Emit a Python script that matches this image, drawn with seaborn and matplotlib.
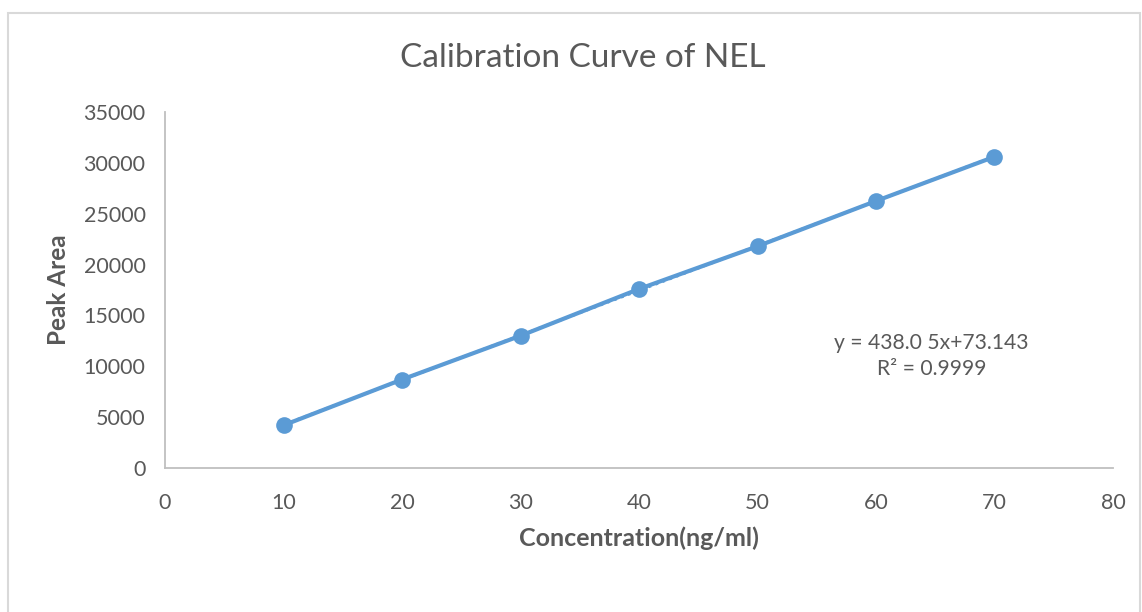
import matplotlib
matplotlib.use("Agg")
import matplotlib.pyplot as plt
import seaborn as sns
import pandas as pd
from matplotlib.patches import Rectangle

# calibration data
conc = [10, 20, 30, 40, 50, 60, 70]
peak_area = [4200, 8700, 13000, 17600, 21800, 26250, 30600]
x_ticks = [0, 10, 20, 30, 40, 50, 60, 70, 80]
y_ticks = [0, 5000, 10000, 15000, 20000, 25000, 30000, 35000]
equation = "y = 438.0 5x+73.143"
r_squared = "R² = 0.9999"

df = pd.DataFrame({"conc": conc, "area": peak_area})

sns.set_style("white")
plt.rcParams["font.family"] = ["Lato", "DejaVu Sans"]

blue = "#5B9BD5"
txt = "#595959"
grid_col = "#BFBFBF"

fig = plt.figure(figsize=(11.42, 6.12), dpi=100)
ax = fig.add_axes([0.1445, 0.2353, 0.9746 - 0.1445, 0.817 - 0.2353])

# outer chart border
fig.patches.append(Rectangle((8 / 1142, -0.01), 1132 / 1142, 1 - 13 / 612 + 0.01,
                             transform=fig.transFigure, fill=False,
                             edgecolor="#D9D9D9", linewidth=1.5))

sns.lineplot(data=df, x="conc", y="area", ax=ax, color=blue, linewidth=3,
             marker="o", markersize=12, markeredgewidth=0)
sns.regplot(data=df, x="conc", y="area", ax=ax, scatter=False, ci=None,
            color=blue, line_kws={"linestyle": ":", "linewidth": 2})

ax.set_xlim(0, 80)
ax.set_ylim(0, 35000)
ax.set_xticks(x_ticks)
ax.set_yticks(y_ticks)
ax.tick_params(axis="both", length=0, labelsize=15.5, colors=txt)
ax.tick_params(axis="x", pad=18)
ax.tick_params(axis="y", pad=14)

for side in ["top", "right"]:
    ax.spines[side].set_visible(False)
for side in ["left", "bottom"]:
    ax.spines[side].set_color(grid_col)
    ax.spines[side].set_linewidth(1.3)

ax.set_xlabel("Concentration(ng/ml)", fontsize=18, fontweight="bold", color=txt, labelpad=10)
ax.set_ylabel("Peak Area", fontsize=17.5, fontweight="bold", color=txt, labelpad=10)
fig.text(583 / 1142, 1 - 58 / 612, "Calibration Curve of NEL", fontsize=24,
         color=txt, ha="center", va="center")

ax.text(64.7, 12300, equation, fontsize=15.2, color=txt, ha="center", va="center")
ax.text(64.7, 9700, r_squared, fontsize=15.2, color=txt, ha="center", va="center")

fig.savefig("out.png", dpi=100)
